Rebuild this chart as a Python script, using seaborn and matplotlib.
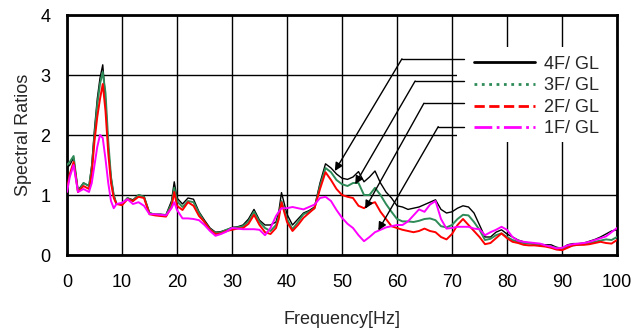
import numpy as np
import pandas as pd
import matplotlib
matplotlib.use("Agg")
import matplotlib.pyplot as plt
from matplotlib.lines import Line2D
from matplotlib.patches import Rectangle
import seaborn as sns

# ---------------- data ----------------
freq = [0, 0.5, 1.2, 2, 3, 4, 4.5, 5, 5.5, 6, 6.5, 7, 7.5, 8, 8.5, 9,
        10, 11, 12, 13, 14, 15, 16, 17, 18, 19,
        19.5,
        20, 21, 22, 23, 24, 25, 26, 27, 28, 29,
        30, 31, 32, 33, 34, 35, 36, 37, 38,
        38.5,
        39, 40,
        41, 42, 43, 44, 45, 46, 47, 48, 49, 50,
        51, 52, 53, 54, 55, 56, 57, 58, 59, 60,
        61, 62, 63, 64, 65, 66, 67, 68, 69, 70,
        71, 72, 73, 74, 75, 76, 77, 78, 79, 80,
        81, 82, 83, 84, 85, 86, 87, 88, 89, 90,
        91, 92, 93, 94, 95, 96, 97, 98, 99, 100]

ratio_4f = [1.45, 1.50, 1.62, 1.08, 1.20, 1.15, 1.50, 2.10, 2.60, 2.95, 3.17, 2.60, 1.80, 1.30, 1.00, 0.85,
            0.85, 0.95, 0.92, 1.00, 0.98, 0.70, 0.68, 0.68, 0.67, 0.90,
            1.22,
            0.95, 0.85, 0.95, 0.93, 0.72, 0.58, 0.45, 0.38, 0.39, 0.42,
            0.46, 0.47, 0.50, 0.60, 0.76, 0.58, 0.50, 0.50, 0.55,
            0.72,
            1.04, 0.68,
            0.50, 0.60, 0.70, 0.74, 0.80, 1.20, 1.52, 1.45, 1.35, 1.28,
            1.26, 1.30, 1.39, 1.22, 1.30, 1.40, 1.20, 1.05, 0.95, 0.82,
            0.80, 0.76, 0.78, 0.80, 0.84, 0.88, 0.92, 0.76, 0.70, 0.72,
            0.78, 0.82, 0.80, 0.70, 0.50, 0.30, 0.30, 0.38, 0.42, 0.35,
            0.30, 0.25, 0.22, 0.20, 0.19, 0.18, 0.17, 0.17, 0.13, 0.11,
            0.17, 0.19, 0.19, 0.20, 0.23, 0.26, 0.30, 0.35, 0.40, 0.42]

ratio_3f = [1.50, 1.55, 1.65, 1.05, 1.20, 1.15, 1.45, 2.00, 2.50, 2.85, 3.05, 2.70, 1.90, 1.30, 1.00, 0.85,
            0.85, 0.95, 0.90, 1.00, 0.97, 0.70, 0.67, 0.67, 0.66, 0.85,
            1.12,
            0.90, 0.80, 0.90, 0.88, 0.70, 0.55, 0.43, 0.37, 0.38, 0.42,
            0.45, 0.46, 0.48, 0.56, 0.72, 0.55, 0.45, 0.40, 0.50,
            0.65,
            0.90, 0.60,
            0.43, 0.55, 0.68, 0.72, 0.78, 1.15, 1.45, 1.38, 1.25, 1.18,
            1.15, 1.20, 1.20, 1.00, 1.00, 1.12, 1.00, 0.85, 0.72, 0.60,
            0.56, 0.56, 0.55, 0.57, 0.60, 0.61, 0.58, 0.48, 0.46, 0.50,
            0.60, 0.67, 0.66, 0.55, 0.42, 0.25, 0.27, 0.33, 0.36, 0.30,
            0.25, 0.22, 0.20, 0.19, 0.18, 0.16, 0.15, 0.14, 0.12, 0.10,
            0.14, 0.16, 0.17, 0.18, 0.20, 0.22, 0.24, 0.26, 0.25, 0.30]

ratio_2f = [1.10, 1.35, 1.55, 1.05, 1.15, 1.10, 1.35, 1.90, 2.30, 2.60, 2.85, 2.40, 1.70, 1.20, 0.95, 0.85,
            0.83, 0.93, 0.90, 0.97, 0.95, 0.68, 0.66, 0.65, 0.64, 0.80,
            1.05,
            0.82, 0.75, 0.88, 0.82, 0.65, 0.55, 0.42, 0.35, 0.36, 0.40,
            0.42, 0.44, 0.45, 0.52, 0.67, 0.50, 0.38, 0.35, 0.45,
            0.60,
            0.88, 0.55,
            0.40, 0.50, 0.62, 0.70, 0.78, 1.10, 1.38, 1.25, 1.10, 1.00,
            0.97, 0.95, 0.82, 0.78, 0.85, 0.88, 0.72, 0.60, 0.48, 0.45,
            0.42, 0.40, 0.38, 0.40, 0.44, 0.40, 0.38, 0.30, 0.26, 0.35,
            0.50, 0.60, 0.50, 0.40, 0.30, 0.18, 0.20, 0.28, 0.36, 0.28,
            0.22, 0.20, 0.17, 0.16, 0.16, 0.15, 0.14, 0.12, 0.09, 0.08,
            0.12, 0.16, 0.17, 0.17, 0.18, 0.20, 0.22, 0.20, 0.19, 0.25]

ratio_1f = [1.05, 1.30, 1.50, 1.05, 1.10, 1.05, 1.20, 1.50, 1.80, 2.00, 1.95, 1.60, 1.20, 0.90, 0.78, 0.85,
            0.87, 0.93, 0.85, 0.88, 0.82, 0.68, 0.68, 0.67, 0.66, 0.78,
            0.88,
            0.75, 0.61, 0.61, 0.60, 0.58, 0.50, 0.40, 0.32, 0.35, 0.39,
            0.45, 0.44, 0.43, 0.43, 0.43, 0.42, 0.33, 0.45, 0.65,
            0.72,
            0.78, 0.78,
            0.80, 0.78, 0.76, 0.80, 0.84, 0.95, 0.97, 0.90, 0.75, 0.62,
            0.52, 0.45, 0.33, 0.23, 0.30, 0.38, 0.42, 0.46, 0.48, 0.50,
            0.50, 0.56, 0.66, 0.76, 0.72, 0.84, 0.90, 0.60, 0.44, 0.45,
            0.47, 0.47, 0.47, 0.44, 0.43, 0.33, 0.38, 0.42, 0.47, 0.42,
            0.30, 0.24, 0.22, 0.21, 0.20, 0.19, 0.16, 0.14, 0.11, 0.12,
            0.16, 0.18, 0.19, 0.20, 0.22, 0.25, 0.28, 0.31, 0.38, 0.45]

series_labels = ["4F/ GL", "3F/ GL", "2F/ GL", "1F/ GL"]
series_colors = ["#000000", "#2e8b57", "#ff0000", "#ff00ff"]
series_dashes = ["-", ":", "--", "-."]
x_ticks = [0, 10, 20, 30, 40, 50, 60, 70, 80, 90, 100]
y_ticks = [0, 1, 2, 3, 4]

# leader lines: (label y, knee x, arrow-tip x, arrow-tip y)
leaders = [(3.27, 60.9, 48.7, 1.40),
           (2.90, 63.3, 52.4, 1.18),
           (2.53, 64.9, 54.2, 0.77),
           (2.14, 67.5, 56.6, 0.41)]

# ---------------- build long table ----------------
frames = []
for lab, vals in zip(series_labels, [ratio_4f, ratio_3f, ratio_2f, ratio_1f]):
    frames.append(pd.DataFrame({"freq": freq, "ratio": vals, "series": lab}))
df = pd.concat(frames, ignore_index=True)

sns.set_style("white")
plt.rcParams["font.family"] = ["Liberation Sans", "DejaVu Sans"]

fig = plt.figure(figsize=(6.42, 3.32), dpi=100)
ax = fig.add_axes([67 / 642, 1 - 255 / 332, 550 / 642, 240 / 332])

sns.lineplot(data=df, x="freq", y="ratio", hue="series",
             hue_order=series_labels, palette=series_colors,
             legend=False, ax=ax, linewidth=1.3, zorder=3)
for line, lw in zip(ax.get_lines(), [1.0, 1.4, 1.4, 1.4]):
    line.set_linewidth(lw)

ax.set_xlim(0, 100)
ax.set_ylim(0, 4)
ax.set_xticks(x_ticks)
ax.set_yticks(y_ticks)
ax.set_xticks([5, 15, 25, 35, 45, 55, 65, 75, 85, 95], minor=True)
ax.set_yticks([0.5, 1.5, 2.5, 3.5], minor=True)
ax.grid(True, which="major", color="black", linewidth=1.0)
ax.set_axisbelow(True)
ax.tick_params(which="both", direction="in", colors="black", labelsize=13)
ax.tick_params(which="major", length=0)
ax.tick_params(which="minor", length=5, width=1)
ax.tick_params(axis="x", pad=14)
ax.tick_params(axis="y", pad=12)
for sp in ax.spines.values():
    sp.set_color("black")
    sp.set_linewidth(2)
    sp.set_visible(True)

ax.set_xlabel("Frequency[Hz]", fontsize=13, labelpad=14)
ax.set_ylabel("Spectral Ratios", fontsize=13, labelpad=6)

# white box behind legend (hides grid there)
ax.add_patch(Rectangle((70.9, 1.88), 29.1, 1.59, facecolor="white",
                       edgecolor="none", zorder=1.5))

# leader lines with arrows
for ly, kx, tx, ty in leaders:
    ax.plot([72.2, kx], [ly, ly], color="black", lw=1.0, zorder=4)
    ax.annotate("", xy=(tx, ty), xytext=(kx, ly),
                arrowprops=dict(arrowstyle="-|>", color="black", lw=1.0,
                                mutation_scale=12, shrinkA=0, shrinkB=0),
                zorder=4)

handles = [Line2D([0], [0], color=c, ls=d, lw=2) for c, d in zip(series_colors, series_dashes)]
leg = ax.legend(handles, series_labels, loc="upper left",
                bbox_to_anchor=(0.74, 0.83), frameon=False, fontsize=13,
                handlelength=3.4, handletextpad=0.45, labelspacing=0.25,
                borderpad=0, borderaxespad=0)
leg.set_zorder(5)

fig.savefig("out.png", dpi=100)
